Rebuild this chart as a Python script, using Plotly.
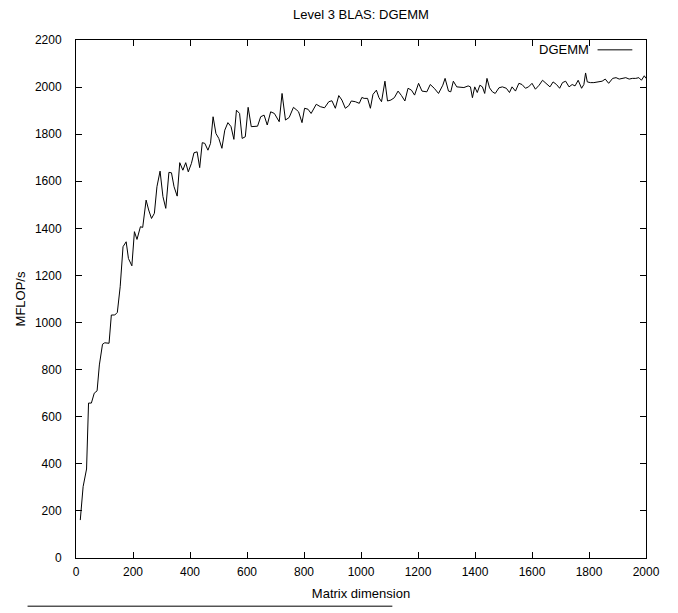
import plotly.graph_objects as go

matrix_dim = [15, 25, 37, 44, 54, 64, 74, 82, 93, 101, 116, 124, 136, 145, 155, 165, 176, 184, 196,
              205, 214, 226, 234, 246, 255, 265, 275, 284, 295, 305, 315, 326, 335, 344, 355, 364, 375,
              385, 394, 405, 414, 425, 434, 443, 452, 463, 472, 481, 491, 501, 512, 522, 533, 544, 554,
              563, 574, 583, 594, 604, 615, 625, 637, 648, 660, 671, 683, 696, 713, 723, 735, 748, 763,
              775, 781, 793, 802, 814, 825, 843, 857, 872, 887, 898, 910, 922, 933, 945, 957, 966, 980,
              994, 1003, 1011, 1023, 1033, 1042, 1054, 1063, 1072, 1084, 1093, 1105, 1117, 1130, 1142,
              1154, 1165, 1177, 1188, 1202, 1214, 1231, 1243, 1257, 1272, 1287, 1295, 1307, 1315, 1324,
              1336, 1347, 1361, 1376, 1384, 1391, 1399, 1408, 1417, 1426, 1434, 1442, 1451, 1461, 1471,
              1484, 1496, 1510, 1521, 1530, 1542, 1554, 1565, 1577, 1588, 1600, 1612, 1625, 1637, 1649,
              1663, 1674, 1686, 1697, 1707, 1718, 1730, 1741, 1751, 1762, 1774, 1782, 1788, 1794, 1805,
              1817, 1834, 1846, 1857, 1869, 1883, 1895, 1906, 1918, 1929, 1941, 1952, 1964, 1975, 1984,
              1994, 2000]

mflops = [161, 303, 378, 658, 658, 700, 710, 820, 908, 914, 912, 1032, 1032, 1043, 1152, 1322, 1343,
          1272, 1241, 1386, 1353, 1407, 1404, 1520, 1478, 1442, 1464, 1577, 1643, 1535, 1485, 1638,
          1636, 1577, 1537, 1679, 1647, 1679, 1640, 1676, 1721, 1725, 1658, 1764, 1761, 1732, 1761,
          1874, 1803, 1782, 1740, 1817, 1849, 1832, 1778, 1902, 1888, 1782, 1789, 1914, 1832, 1834,
          1834, 1874, 1881, 1839, 1895, 1888, 1853, 1973, 1860, 1871, 1914, 1902, 1895, 1849, 1910,
          1906, 1888, 1927, 1917, 1912, 1938, 1942, 1910, 1964, 1945, 1910, 1921, 1941, 1938, 1931,
          1956, 1952, 1952, 1910, 1969, 1987, 1955, 1938, 2025, 1941, 1945, 1955, 1983, 1964, 1941,
          1995, 1987, 1966, 2016, 1983, 1980, 2011, 1995, 1973, 2008, 2037, 1983, 1980, 2025, 2001,
          2001, 1998, 2005, 2001, 1955, 2001, 1977, 2008, 2001, 1973, 2037, 1997, 1980, 1973, 1997,
          2001, 1995, 1977, 2001, 1983, 2016, 2011, 1995, 2001, 2016, 1991, 2008, 2029, 2016, 2001,
          2022, 2011, 1995, 2019, 2025, 2001, 2011, 2005, 2029, 1995, 2011, 2060, 2022, 2019, 2019,
          2022, 2025, 2034, 2016, 2037, 2040, 2034, 2037, 2040, 2034, 2037, 2037, 2040, 2029, 2048,
          2037]

x_ticks = [0, 200, 400, 600, 800, 1000, 1200, 1400, 1600, 1800, 2000]
y_ticks = [0, 200, 400, 600, 800, 1000, 1200, 1400, 1600, 1800, 2000, 2200]

FONT = "Liberation Sans, Arial, Helvetica, sans-serif"

fig = go.Figure()
fig.add_trace(go.Scatter(x=matrix_dim, y=mflops, mode="lines", name="DGEMM",
                         line=dict(color="black", width=1), showlegend=False))

axis_common = dict(showline=True, linecolor="black", linewidth=1, mirror="ticks",
                   ticks="inside", ticklen=6, tickcolor="black", tickwidth=1,
                   showgrid=False, zeroline=False,
                   tickfont=dict(family=FONT, size=12, color="black"))

fig.update_xaxes(range=[0, 2000], tickvals=x_ticks, ticktext=[str(v) for v in x_ticks],
                 title=dict(text="Matrix dimension", font=dict(family=FONT, size=13, color="black"),
                            standoff=10),
                 ticklabelstandoff=3, **axis_common)
fig.update_yaxes(range=[0, 2200], tickvals=y_ticks, ticktext=[str(v) for v in y_ticks],
                 title=dict(text="MFLOP/s", font=dict(family=FONT, size=13, color="black"),
                            standoff=6),
                 ticklabelstandoff=11, **axis_common)

fig.update_layout(
    width=678, height=613,
    margin=dict(l=63, r=40, t=32, b=63, pad=0),
    paper_bgcolor="white", plot_bgcolor="white",
    annotations=[
        dict(text="Level 3 BLAS: DGEMM", xref="paper", yref="paper", x=0.5, y=1.049,
             xanchor="center", yanchor="middle", showarrow=False,
             font=dict(family=FONT, size=13, color="black")),
        dict(text="DGEMM", xref="paper", yref="paper", x=0.904, y=0.981,
             xanchor="right", yanchor="middle", showarrow=False,
             font=dict(family=FONT, size=13, color="black")),
    ],
    shapes=[
        dict(type="line", xref="paper", yref="paper", x0=0.915, x1=0.976, y0=0.981, y1=0.981,
             line=dict(color="black", width=1)),
        dict(type="line", xref="paper", yref="paper", x0=-0.085, x1=0.555, y0=-0.093, y1=-0.093,
             line=dict(color="black", width=1)),
    ],
)

fig.write_html("out.html")
